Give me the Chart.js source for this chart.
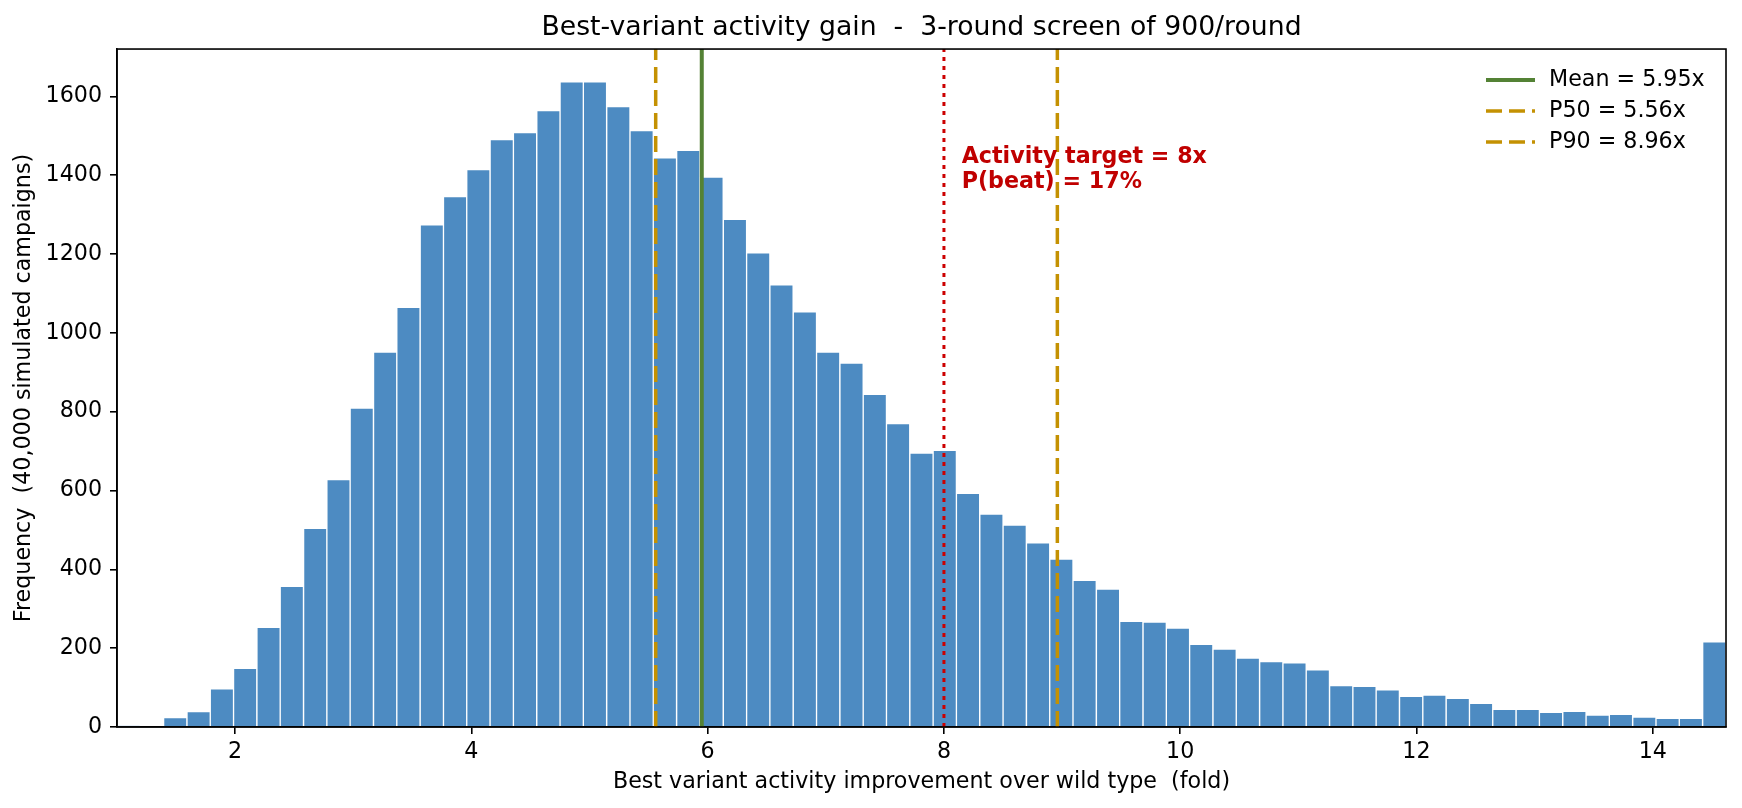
<!DOCTYPE html>
<html>
<head>
<meta charset="utf-8">
<script src="https://cdn.jsdelivr.net/npm/chart.js@4.4.1/dist/chart.umd.min.js"></script>
<style>
  html, body { margin: 0; padding: 0; background: #fff; }
  #wrap { width: 1742px; height: 808px; }
</style>
</head>
<body>
<div id="wrap"><canvas id="histChart"></canvas></div>
<script>
// histogram bins (centres, 69 bins spanning 1.00 .. 14.62)
const binCenters = [
  1.099, 1.296, 1.493, 1.691, 1.888, 2.085, 2.283, 2.480, 2.678, 2.875,
  3.072, 3.270, 3.467, 3.665, 3.862, 4.059, 4.257, 4.454, 4.652, 4.849,
  5.046, 5.244, 5.441, 5.638, 5.836, 6.033, 6.231, 6.428, 6.625, 6.823,
  7.020, 7.218, 7.415, 7.612, 7.810, 8.007, 8.204, 8.402, 8.599, 8.797,
  8.994, 9.191, 9.389, 9.586, 9.784, 9.981, 10.178, 10.376, 10.573, 10.771,
  10.968, 11.165, 11.363, 11.560, 11.757, 11.955, 12.152, 12.350, 12.547, 12.744,
  12.942, 13.139, 13.337, 13.534, 13.731, 13.929, 14.126, 14.323, 14.521
];
const counts = [
  3, 0, 24, 39, 97, 149, 253, 357, 504, 628,
  809, 951, 1065, 1274, 1346, 1414, 1490, 1508, 1564, 1637,
  1637, 1574, 1513, 1444, 1463, 1395, 1288, 1203, 1122, 1053,
  951, 923, 844, 770, 695, 702, 593, 540, 512, 467,
  426, 372, 350, 268, 266, 251, 210, 198, 175, 166,
  163, 145, 105, 103, 94, 78, 81, 73, 60, 45,
  45, 37, 40, 30, 32, 25, 22, 22, 216
];

const xTicks = [2, 4, 6, 8, 10, 12, 14];
const yTicks = [0, 200, 400, 600, 800, 1000, 1200, 1400, 1600];

const meanValue = 5.95;
const p50Value = 5.56;
const p90Value = 8.96;
const targetValue = 8;
const targetText = ['Activity target = 8x', 'P(beat) = 17%'];

const FONT = 'DejaVu Sans';
const FS = 22.2;
const BAR_BLUE = 'rgb(77,139,194)';
const GREEN = '#548235';
const GOLD = '#c49102';
const RED = '#cc0000';
const Y_TOP = 1720;

Chart.defaults.font.family = FONT;
Chart.defaults.font.size = FS;
Chart.defaults.color = '#000';

const barData = binCenters.map((x, i) => ({ x: x, y: counts[i] }));
const vline = v => [{ x: v, y: 0 }, { x: v, y: Y_TOP }];

// axes box (top + right spines) drawn over bars
const frame = {
  id: 'frame',
  afterDatasetsDraw(chart) {
    const { ctx, chartArea: a } = chart;
    ctx.save();
    ctx.strokeStyle = '#000';
    ctx.lineWidth = 1.6;
    ctx.strokeRect(a.left, a.top, a.right - a.left, a.bottom - a.top);
    ctx.restore();
  }
};

// red text next to target line
const targetLabel = {
  id: 'targetLabel',
  afterDatasetsDraw(chart) {
    const { ctx, scales } = chart;
    const x = scales.x.getPixelForValue(targetValue + 0.15);
    const y = scales.y.getPixelForValue(1446);
    ctx.save();
    ctx.fillStyle = '#c00000';
    ctx.font = 'bold ' + FS + 'px "' + FONT + '"';
    ctx.textBaseline = 'middle';
    targetText.forEach((t, i) => ctx.fillText(t, x, y + i * 25));
    ctx.restore();
  }
};

// matplotlib style legend, upper right inside axes, no frame
const innerLegend = {
  id: 'innerLegend',
  afterDraw(chart) {
    const { ctx, chartArea: a } = chart;
    const items = chart.data.datasets.filter(d => d.type === 'line' && d.label);
    const textX = a.right - 177;
    ctx.save();
    ctx.font = FS + 'px "' + FONT + '"';
    ctx.textBaseline = 'middle';
    items.forEach((d, i) => {
      const y = a.top + 31 + i * 31;
      ctx.strokeStyle = d.borderColor;
      ctx.lineWidth = d.borderWidth;
      ctx.setLineDash(d.borderDash || []);
      ctx.beginPath();
      ctx.moveTo(textX - 63, y);
      ctx.lineTo(textX - 14, y);
      ctx.stroke();
      ctx.setLineDash([]);
      ctx.fillStyle = '#000';
      ctx.fillText(d.label, textX, y);
    });
    ctx.restore();
  }
};

new Chart(document.getElementById('histChart'), {
  type: 'bar',
  data: {
    datasets: [
      {
        type: 'line', label: 'Mean = 5.95x', data: vline(meanValue),
        borderColor: GREEN, borderWidth: 4, pointRadius: 0, order: 1
      },
      {
        type: 'line', label: 'P50 = 5.56x', data: vline(p50Value),
        borderColor: GOLD, borderWidth: 3.5, borderDash: [16, 7], pointRadius: 0, order: 1
      },
      {
        type: 'line', label: 'P90 = 8.96x', data: vline(p90Value),
        borderColor: GOLD, borderWidth: 3.5, borderDash: [16, 7], pointRadius: 0, order: 1
      },
      {
        type: 'line', label: '', data: vline(targetValue),
        borderColor: RED, borderWidth: 3, borderDash: [4, 5], pointRadius: 0, order: 2
      },
      {
        type: 'bar', label: 'count', data: barData,
        backgroundColor: BAR_BLUE, borderColor: '#ffffff', borderWidth: 1,
        barPercentage: 1.0, categoryPercentage: 1.0, order: 10
      }
    ]
  },
  options: {
    responsive: true,
    maintainAspectRatio: false,
    animation: false,
    layout: { padding: { left: 0, right: 16, top: 0, bottom: 0 } },
    plugins: {
      legend: { display: false },
      tooltip: { enabled: false },
      title: {
        display: true,
        fullSize: false,
        text: 'Best-variant activity gain  -  3-round screen of 900/round',
        color: '#000',
        font: { size: 26.7, weight: 'normal' },
        padding: { top: 12, bottom: 5 }
      }
    },
    scales: {
      x: {
        type: 'linear',
        min: 1.0,
        max: 14.62,
        offset: false,
        afterFit: s => { s.height = 81; },
        afterBuildTicks: s => { s.ticks = xTicks.map(v => ({ value: v })); },
        ticks: { padding: 5, callback: v => String(v) },
        grid: { offset: false, drawOnChartArea: false, drawTicks: true, tickLength: 7, color: '#000', lineWidth: 1.6 },
        border: { display: true, color: '#000', width: 1.6 },
        title: {
          display: true,
          text: 'Best variant activity improvement over wild type  (fold)',
          padding: { top: 0, bottom: 12 }
        }
      },
      y: {
        min: 0,
        max: Y_TOP,
        afterFit: s => { s.width = 117; },
        afterBuildTicks: s => { s.ticks = yTicks.map(v => ({ value: v })); },
        ticks: { padding: 8, callback: v => String(v) },
        grid: { drawOnChartArea: false, drawTicks: true, tickLength: 7, color: '#000', lineWidth: 1.6 },
        border: { display: true, color: '#000', width: 1.6 },
        title: {
          display: true,
          text: 'Frequency  (40,000 simulated campaigns)',
          padding: { top: 11, bottom: 0 }
        }
      }
    }
  },
  plugins: [frame, targetLabel, innerLegend]
});
</script>
</body>
</html>
